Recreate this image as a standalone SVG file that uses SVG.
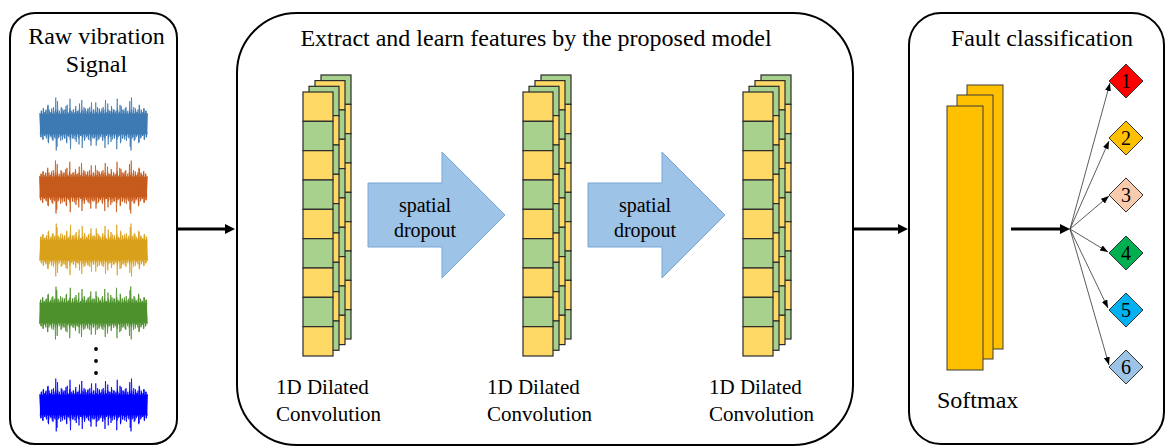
<svg xmlns="http://www.w3.org/2000/svg" xmlns:xlink="http://www.w3.org/1999/xlink" width="1166" height="446" viewBox="0 0 1166 446">
  <style>
    text { font-family: "Liberation Serif", "Times New Roman", serif; fill: #000; }
    .panel { fill: #fff; stroke: #000; stroke-width: 2; }
    .title { font-size: 24px; text-anchor: middle; }
    .label { font-size: 21px; }
    .drop { font-size: 20px; text-anchor: middle; }
    .num { font-size: 20px; text-anchor: middle; }
    .y { fill: #ffd966; stroke: #2b2b2b; stroke-width: 1.2; }
    .g { fill: #a9d18e; stroke: #2b2b2b; stroke-width: 1.2; }
    .sm { fill: #ffc000; stroke: #3a3a3a; stroke-width: 1; }
    .darrow { fill: #9dc3e6; stroke: #7aa6d6; stroke-width: 1; }
    .thick { stroke: #000; stroke-width: 3; fill: none; }
    .thin { stroke: #333; stroke-width: 0.8; fill: none; }
    .dia { stroke: #333; stroke-width: 1; }
    .wave { fill: none; stroke-width: 0.75; vector-effect: non-scaling-stroke; }
  </style>
  <defs>
    <marker id="headThick" markerUnits="userSpaceOnUse" markerWidth="11" markerHeight="11" refX="0" refY="5" orient="auto">
      <path d="M0,0 L10,5 L0,10 z" fill="#000"/>
    </marker>
    <marker id="headThin" markerUnits="userSpaceOnUse" markerWidth="9" markerHeight="7" refX="8" refY="3" orient="auto">
      <path d="M0,0 L8,3 L0,6 z" fill="#000"/>
    </marker>
    <!-- one noisy trace, reused for every signal -->
    <path id="trace" class="wave" d="M0,-9 1,11 2,-8 3,13 4,-10 5,7 6,-12 7,9 8,-16 9,8 10,-10 11,11 12,-9 13,14 14,-8 15,12 16,-10 17,19 18,-9 19,11 20,-8 21,10 22,-13 23,9 24,-12 25,8 26,-15 27,10 28,-9 29,11 30,-21 31,8 32,-10 33,12 34,-9 35,13 36,-10 37,8 38,-11 39,17 40,-9 41,10 42,-12 43,8 44,-14 45,9 46,-11 47,10 48,-13 49,8 50,-10 51,18 52,-9 53,12 54,-8 55,11 56,-10 57,14 58,-9 59,12 60,-10 61,8 62,-13 63,11 64,-9 65,20 66,-10 67,8 68,-12 69,9 70,-11 71,15 72,-10 73,9 74,-12 75,8 76,-11 77,13 78,-9 79,10 80,-16 81,8 82,-12 83,9 84,-11 85,10 86,-14 87,9 88,-8 89,12 90,-10 91,22 92,-9 93,11 94,-8 95,13 96,-10 97,9 98,-12 99,15 100,-8 101,11 102,-10 103,9 104,-13 105,8 106,-11 107,9"/>
    <!-- a signal: dense core plus four interleaved copies of the trace -->
    <g id="signal">
      <rect x="0" y="-8.5" width="107" height="17" stroke="none"/>
      <use xlink:href="#trace"/>
      <use xlink:href="#trace" transform="translate(0.5,0) scale(1,-1)"/>
      <use xlink:href="#trace" transform="translate(107.25,0) scale(-1,1)"/>
      <use xlink:href="#trace" transform="translate(106.75,0) scale(-1,-1)"/>
    </g>
    <!-- one column of feature cells: 9 cells, alternating -->
    <g id="colY">
      <rect class="y" x="0" y="0" width="30" height="29.33"/>
      <rect class="g" x="0" y="29.33" width="30" height="29.33"/>
      <rect class="y" x="0" y="58.67" width="30" height="29.33"/>
      <rect class="g" x="0" y="88" width="30" height="29.33"/>
      <rect class="y" x="0" y="117.33" width="30" height="29.33"/>
      <rect class="g" x="0" y="146.67" width="30" height="29.33"/>
      <rect class="y" x="0" y="176" width="30" height="29.33"/>
      <rect class="g" x="0" y="205.33" width="30" height="29.33"/>
      <rect class="y" x="0" y="234.67" width="30" height="29.33"/>
    </g>
    <g id="colG">
      <rect class="g" x="0" y="0" width="30" height="29.33"/>
      <rect class="y" x="0" y="29.33" width="30" height="29.33"/>
      <rect class="g" x="0" y="58.67" width="30" height="29.33"/>
      <rect class="y" x="0" y="88" width="30" height="29.33"/>
      <rect class="g" x="0" y="117.33" width="30" height="29.33"/>
      <rect class="y" x="0" y="146.67" width="30" height="29.33"/>
      <rect class="g" x="0" y="176" width="30" height="29.33"/>
      <rect class="y" x="0" y="205.33" width="30" height="29.33"/>
      <rect class="g" x="0" y="234.67" width="30" height="29.33"/>
    </g>
    <!-- stack of four feature maps, back to front -->
    <g id="stack">
      <use xlink:href="#colG" transform="translate(18,-17)"/>
      <use xlink:href="#colY" transform="translate(12,-11.4)"/>
      <use xlink:href="#colG" transform="translate(6,-5.7)"/>
      <use xlink:href="#colY"/>
    </g>
  </defs>

  <rect width="1166" height="446" fill="#fff"/>

  <!-- input panel -->
  <g id="input">
    <rect class="panel" x="10" y="13" width="167" height="431" rx="25" ry="25"/>
    <text class="title" x="96.5" y="44">Raw vibration</text>
    <text class="title" x="96.5" y="72">Signal</text>
    <g transform="translate(40,124) scale(1,1.2)" fill="#3d79b3" stroke="#3d79b3"><use xlink:href="#signal"/></g>
    <g transform="translate(147,187) scale(-1,1.2)" fill="#c65b1c" stroke="#c65b1c"><use xlink:href="#signal"/></g>
    <g transform="translate(40,250) scale(1,-1.2)" fill="#d9a11c" stroke="#d9a11c"><use xlink:href="#signal"/></g>
    <g transform="translate(147,313) scale(-1,-1.2)" fill="#4d922c" stroke="#4d922c"><use xlink:href="#signal"/></g>
    <circle cx="96" cy="349" r="1.9" fill="#000"/>
    <circle cx="96" cy="361" r="1.9" fill="#000"/>
    <circle cx="96" cy="373" r="1.9" fill="#000"/>
    <g transform="translate(40,405) scale(1,1.2)" fill="#0000ff" stroke="#0000ff"><use xlink:href="#signal"/></g>
  </g>

  <!-- feature extraction panel -->
  <g id="extract">
    <rect class="panel" x="237" y="13" width="616" height="432" rx="60" ry="60"/>
    <text class="title" x="536" y="46">Extract and learn features by the proposed model</text>
  </g>

  <g id="conv1">
    <use xlink:href="#stack" transform="translate(303,92)"/>
    <text class="label" x="276" y="394">1D Dilated</text>
    <text class="label" x="276" y="421">Convolution</text>
  </g>
  <g id="dropout1">
    <polygon class="darrow" points="368,183 442,183 442,152 505,215 442,278 442,247 368,247"/>
    <text class="drop" x="425" y="212">spatial</text>
    <text class="drop" x="425" y="237">dropout</text>
  </g>
  <g id="conv2">
    <use xlink:href="#stack" transform="translate(523,92)"/>
    <text class="label" x="487" y="394">1D Dilated</text>
    <text class="label" x="487" y="421">Convolution</text>
  </g>
  <g id="dropout2">
    <polygon class="darrow" points="588,183 662,183 662,152 725,215 662,278 662,247 588,247"/>
    <text class="drop" x="645" y="212">spatial</text>
    <text class="drop" x="645" y="237">dropout</text>
  </g>
  <g id="conv3">
    <use xlink:href="#stack" transform="translate(743,92)"/>
    <text class="label" x="709" y="394">1D Dilated</text>
    <text class="label" x="709" y="421">Convolution</text>
  </g>

  <!-- classification panel -->
  <g id="classify">
    <rect class="panel" x="909" y="13" width="255" height="431" rx="32" ry="32"/>
    <text class="title" x="1042" y="46">Fault classification</text>
  </g>
  <g id="softmax">
    <rect class="sm" x="967" y="85" width="36" height="264"/>
    <rect class="sm" x="957" y="95" width="36" height="264"/>
    <rect class="sm" x="947" y="106" width="36" height="264"/>
    <text x="937" y="408" style="font-size:24px">Softmax</text>
  </g>

  <g id="class1"><polygon class="dia" fill="#ff0000" points="1126,64 1143,81 1126,98 1109,81"/><text class="num" x="1126" y="88">1</text></g>
  <g id="class2"><polygon class="dia" fill="#ffc000" points="1126,121 1143,138 1126,155 1109,138"/><text class="num" x="1126" y="145">2</text></g>
  <g id="class3"><polygon class="dia" fill="#f8cbad" points="1126,178 1143,195 1126,212 1109,195"/><text class="num" x="1126" y="202">3</text></g>
  <g id="class4"><polygon class="dia" fill="#00b050" points="1126,236 1143,253 1126,270 1109,253"/><text class="num" x="1126" y="260">4</text></g>
  <g id="class5"><polygon class="dia" fill="#00b0f0" points="1126,293 1143,310 1126,327 1109,310"/><text class="num" x="1126" y="317">5</text></g>
  <g id="class6"><polygon class="dia" fill="#9dc3e6" points="1126,350 1143,367 1126,384 1109,367"/><text class="num" x="1126" y="374">6</text></g>

  <!-- connectors -->
  <g id="connectors">
    <line class="thick" x1="177" y1="229" x2="225" y2="229" marker-end="url(#headThick)"/>
    <line class="thick" x1="853" y1="229" x2="898" y2="229" marker-end="url(#headThick)"/>
    <line class="thick" x1="1011" y1="229" x2="1060" y2="229" marker-end="url(#headThick)"/>
    <line class="thin" x1="1070" y1="229" x2="1110" y2="83" marker-end="url(#headThin)"/>
    <line class="thin" x1="1070" y1="229" x2="1109" y2="141" marker-end="url(#headThin)"/>
    <line class="thin" x1="1070" y1="229" x2="1109" y2="196" marker-end="url(#headThin)"/>
    <line class="thin" x1="1070" y1="229" x2="1108" y2="252" marker-end="url(#headThin)"/>
    <line class="thin" x1="1070" y1="229" x2="1108" y2="308" marker-end="url(#headThin)"/>
    <line class="thin" x1="1070" y1="229" x2="1109" y2="365" marker-end="url(#headThin)"/>
  </g>
</svg>
